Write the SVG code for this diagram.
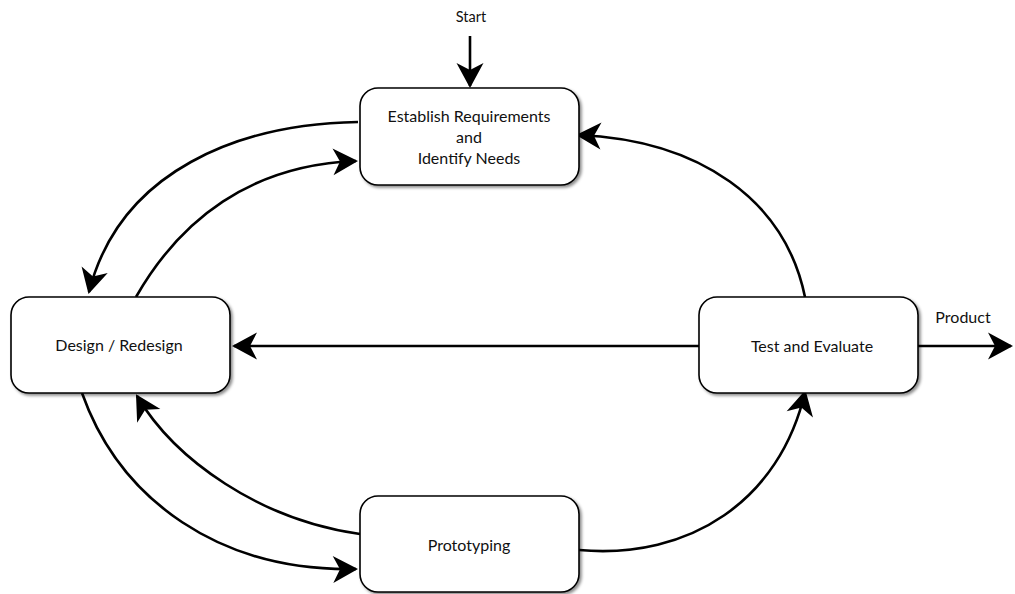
<svg xmlns="http://www.w3.org/2000/svg" width="1015" height="594" viewBox="0 0 1015 594">
<style>
.box{fill:#fff;stroke:#000;stroke-width:1.6;filter:url(#sh)}
.t{font-family:Lato,"Open Sans",sans-serif;font-size:16px;fill:#111;text-anchor:middle}
.s{font-size:14.5px}
.c{fill:none;stroke:#000;stroke-width:2.6;marker-end:url(#ah)}
</style>
<defs>
<filter id="sh" x="-10%" y="-10%" width="130%" height="130%">
<feDropShadow dx="2" dy="2" stdDeviation="1.5" flood-color="#000" flood-opacity="0.45"/>
</filter>
<marker id="ah" markerUnits="userSpaceOnUse" markerWidth="30" markerHeight="30" refX="0" refY="0" orient="auto" overflow="visible">
<path d="M2,0 L-23,-13.5 L-16,0 L-23,13.5 Z" fill="#000"/>
</marker>
</defs>
<rect width="1015" height="594" fill="#fff"/>
<g id="connectors">
<path class="c" d="M470,36 L470,86"/>
<path class="c" d="M918,346 L1011,346"/>
<path class="c" d="M699,346 L234,346"/>
<path class="c" d="M358,122 C240,124 120,170 89,292"/>
<path class="c" d="M136,297 C180,220 250,165 356,161"/>
<path class="c" d="M805,297 C785,200 700,140 578,135"/>
<path class="c" d="M82,393 C120,500 220,572 356,569"/>
<path class="c" d="M360,534 C260,520 175,460 137,396"/>
<path class="c" d="M579,550 C690,560 780,500 805,392"/>
</g>
<g id="start-label"><text class="t s" x="471" y="22">Start</text></g>
<g id="product-label"><text class="t" x="963" y="323">Product</text></g>
<g id="establish">
<rect class="box" x="360" y="88" width="219" height="97" rx="18"/>
<text class="t" x="469" y="122">Establish Requirements</text>
<text class="t" x="469" y="143">and</text>
<text class="t" x="469" y="164">Identify Needs</text>
</g>
<g id="design">
<rect class="box" x="11" y="297" width="219" height="96" rx="18"/>
<text class="t" x="119" y="351">Design / Redesign</text>
</g>
<g id="test">
<rect class="box" x="699" y="297" width="219" height="96" rx="18"/>
<text class="t" x="812" y="352">Test and Evaluate</text>
</g>
<g id="prototyping">
<rect class="box" x="360" y="496" width="219" height="96" rx="18"/>
<text class="t" x="469" y="551">Prototyping</text>
</g>
</svg>
